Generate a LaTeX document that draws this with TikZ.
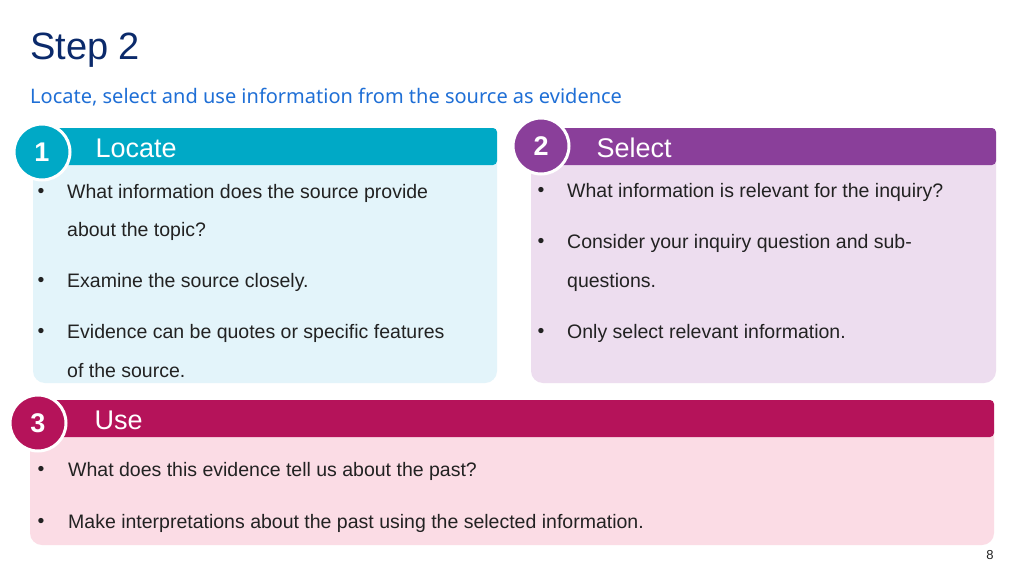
\documentclass[tikz,border=0pt]{standalone}
\usepackage{fontspec}
\setmainfont{Liberation Sans}
\newfontfamily\subfont{Noto Sans}
\usetikzlibrary{positioning}
\definecolor{navy}{HTML}{0B2A6B}
\definecolor{subblue}{HTML}{1F6FD6}
\definecolor{tealhead}{HTML}{00A9C6}
\definecolor{tealbody}{HTML}{E3F4FA}
\definecolor{purphead}{HTML}{8A3F9A}
\definecolor{purpbody}{HTML}{EDDDEF}
\definecolor{redhead}{HTML}{B5135A}
\definecolor{redbody}{HTML}{FBDCE5}
\definecolor{bodytext}{HTML}{222222}
\tikzset{
  head/.style={anchor=north west,inner sep=0pt,rounded corners=4pt},
  badge/.style={circle,draw=white,line width=3pt,minimum size=56pt,inner sep=0pt,
    text=white,font=\fontsize{27}{30}\selectfont\bfseries},
  headtext/.style={anchor=west,text=white,font=\fontsize{27}{30}\selectfont},
  item/.style={anchor=west,text=bodytext,font=\fontsize{19.5}{22}\selectfont,inner sep=0pt},
  dot/.style={anchor=center,text=bodytext,font=\fontsize{19.5}{22}\selectfont,inner sep=0pt}
}
\begin{document}
\begin{tikzpicture}[x=1pt,y=-1pt]
\useasboundingbox[fill=white] (0,0) rectangle (1024,575);
% titles
\node[anchor=west,text=navy,font=\fontsize{38}{40}\selectfont,inner sep=0pt] (step) at (30,50) {Step 2};
\node[anchor=west,text=subblue,font=\subfont\fontsize{20}{22}\selectfont,inner sep=0pt] (sub) at (30,97) {Locate, select and use information from the source as evidence};
% box 1
\fill[tealbody,rounded corners=12pt] (33,140) rectangle (497,383);
\fill[tealhead,rounded corners=4pt] (33,128) rectangle (497,165);
\node[badge,fill=tealhead] (b1) at (42,152) {1};
\node[headtext] (h1) at (92,148) {Locate};
\foreach \y/\t in {193/What information does the source provide,231/about the topic?,282/Examine the source closely.,333/Evidence can be quotes or specific features,371/of the source.}
  \node[item] at (67,\y) {\t};
\foreach \y in {193,282,333} \node[dot] at (41,\y) {•};
% box 2
\fill[purpbody,rounded corners=12pt] (531,140) rectangle (996,383);
\fill[purphead,rounded corners=4pt] (531,128) rectangle (996,165);
\node[badge,fill=purphead] (b2) at (541,146) {2};
\node[headtext] (h2) at (593,148) {Select};
\foreach \y/\t in {192/What information is relevant for the inquiry?,243/Consider your inquiry question and sub-,282/questions.,333/Only select relevant information.}
  \node[item] at (567,\y) {\t};
\foreach \y in {192,243,333} \node[dot] at (541,\y) {•};
% box 3
\fill[redbody,rounded corners=12pt] (30,412) rectangle (994,545);
\fill[redhead,rounded corners=4pt] (30,400) rectangle (994,437);
\node[badge,fill=redhead] (b3) at (38,423) {3};
\node[headtext] (h3) at (91,420) {Use};
\foreach \y/\t in {471/What does this evidence tell us about the past?,523/Make interpretations about the past using the selected information.}
  \node[item] at (68,\y) {\t};
\foreach \y in {471,523} \node[dot] at (41,\y) {•};
% page number
\node[text=bodytext,font=\fontsize{13}{14}\selectfont,inner sep=0pt] (pg) at (990,555) {8};
\end{tikzpicture}
\end{document}
